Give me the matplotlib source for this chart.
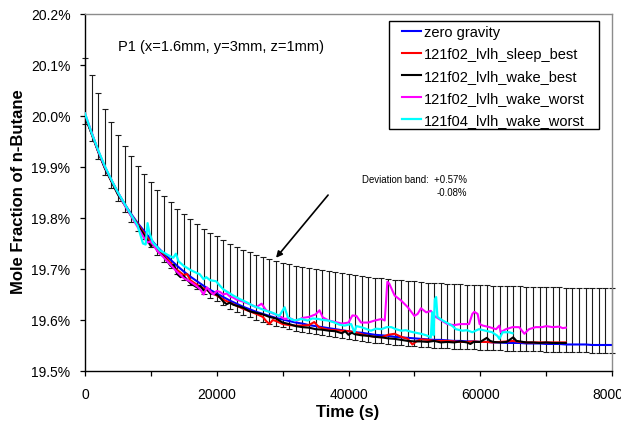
import matplotlib
matplotlib.use("Agg")
import matplotlib.pyplot as plt
from matplotlib.patches import Rectangle
import numpy as np

plt.rcParams['font.family'] = ['Liberation Sans', 'DejaVu Sans']

# ---------------- data (mole fraction of n-butane, %) ----------------
# zero gravity curve, sampled every 1000 s (0 .. 80000 s)
zg_time = list(range(0, 80001, 1000))
zg_vals = [20.000, 19.967, 19.931, 19.900, 19.874, 19.850, 19.828, 19.808, 19.790, 19.774,
           19.758, 19.743, 19.730, 19.718, 19.706, 19.695, 19.685, 19.676, 19.667, 19.659,
           19.652, 19.645, 19.638, 19.632, 19.626, 19.621, 19.616, 19.612, 19.608, 19.604,
           19.601, 19.598, 19.595, 19.593, 19.590, 19.588, 19.586, 19.584, 19.582, 19.580,
           19.578, 19.576, 19.575, 19.573, 19.571, 19.570, 19.569, 19.567, 19.566, 19.565,
           19.564, 19.563, 19.562, 19.561, 19.561, 19.560, 19.559, 19.559, 19.558, 19.558,
           19.557, 19.557, 19.556, 19.556, 19.555, 19.555, 19.555, 19.554, 19.554, 19.554,
           19.553, 19.553, 19.553, 19.552, 19.552, 19.552, 19.552, 19.551, 19.551, 19.551,
           19.551]

dev_plus = 0.57   # % (relative)
dev_minus = 0.08  # % (relative)

sleep_best_t = [0, 1000, 2000, 3000, 4000, 5000, 6000, 7000, 8000, 9000, 10000, 11000, 12000,
                13000, 14000, 15000, 15500, 16000, 17000, 18000, 19000, 20000, 21000, 22000,
                23000, 24000, 25000, 26000, 27000, 27500, 28000, 28500, 29000, 30000, 31000,
                32000, 33000, 34000, 34800, 35500, 36500, 37000, 38000, 39000, 40000, 41000,
                42000, 43000, 44000, 45000, 46000, 47000, 48000, 49000, 49700, 50300, 51000,
                52000, 53000, 54000, 55000, 56000, 57000, 58000, 59000, 60000, 61000, 62000,
                63000, 64000, 65000, 66000, 67000, 68000, 69000, 70000, 71000, 72000, 73000]
sleep_best_v = [20.000, 19.966, 19.931, 19.899, 19.873, 19.848, 19.827, 19.806, 19.788, 19.770,
                19.752, 19.738, 19.726, 19.712, 19.698, 19.688, 19.690, 19.678, 19.669, 19.662,
                19.655, 19.648, 19.640, 19.634, 19.628, 19.622, 19.617, 19.612, 19.606, 19.598,
                19.592, 19.600, 19.598, 19.592, 19.590, 19.589, 19.589, 19.590, 19.596, 19.586,
                19.582, 19.581, 19.580, 19.579, 19.578, 19.576, 19.572, 19.569, 19.567, 19.566,
                19.571, 19.573, 19.567, 19.563, 19.552, 19.558, 19.562, 19.561, 19.559, 19.559,
                19.559, 19.558, 19.557, 19.557, 19.558, 19.557, 19.557, 19.556, 19.557, 19.558,
                19.559, 19.557, 19.556, 19.556, 19.556, 19.556, 19.556, 19.556, 19.556]

wake_best_t = [0, 1000, 2000, 3000, 4000, 5000, 6000, 7000, 8000, 9000, 10000, 10500, 11000,
               12000, 13000, 13500, 14000, 14500, 15000, 16000, 17000, 17500, 18000, 18500,
               19000, 20000, 20500, 21000, 21500, 22000, 22500, 23000, 24000, 25000, 26000,
               27000, 28000, 29000, 30000, 31000, 32000, 33000, 34000, 35000, 36000, 37000,
               38000, 39000, 39500, 40000, 40500, 41000, 42000, 43000, 44000, 45000, 46000,
               47000, 48000, 49000, 50000, 51000, 52000, 53000, 54000, 55000, 56000, 57000,
               58000, 58500, 59000, 60000, 61000, 61500, 62000, 63000, 64000, 65000, 65500,
               66000, 67000, 68000, 69000, 70000, 71000, 72000, 73000]
wake_best_v = [20.000, 19.965, 19.930, 19.898, 19.872, 19.846, 19.826, 19.804, 19.786, 19.766,
               19.745, 19.748, 19.735, 19.724, 19.706, 19.708, 19.690, 19.684, 19.686, 19.672,
               19.664, 19.667, 19.658, 19.661, 19.652, 19.650, 19.644, 19.636, 19.631, 19.634,
               19.630, 19.628, 19.624, 19.617, 19.614, 19.611, 19.606, 19.603, 19.595, 19.592,
               19.588, 19.586, 19.585, 19.582, 19.581, 19.579, 19.578, 19.574, 19.578, 19.571,
               19.575, 19.572, 19.570, 19.569, 19.567, 19.566, 19.564, 19.563, 19.561, 19.559,
               19.558, 19.558, 19.557, 19.559, 19.556, 19.557, 19.556, 19.558, 19.556, 19.553,
               19.557, 19.557, 19.565, 19.559, 19.557, 19.556, 19.557, 19.566, 19.559, 19.558,
               19.556, 19.556, 19.555, 19.556, 19.555, 19.555, 19.555]

wake_worst_t = [0, 1000, 2000, 3000, 4000, 5000, 6000, 7000, 8000, 9000, 9500, 10000, 11000,
                12000, 13000, 14000, 15000, 16000, 17000, 17500, 18000, 18500, 19000, 19500,
                20000, 20500, 21000, 21500, 22000, 22500, 23000, 24000, 25000, 26000, 26800,
                27500, 28500, 29500, 30300, 31000, 32000, 33000, 34000, 35000, 35600, 36100,
                37000, 38000, 39000, 40000, 40600, 41200, 41900, 43000, 44000, 45000, 45500,
                45900, 46200, 47000, 48000, 49000, 50000, 50500, 51000, 51800, 52500, 53000,
                54000, 55000, 56000, 57000, 58300, 58800, 59100, 59600, 59900, 60400, 61400,
                62400, 62900, 63100, 63900, 64900, 65900, 66700, 67400, 68400, 69400, 70000,
                71000, 72000, 72500, 73000]
wake_worst_v = [20.005, 19.968, 19.932, 19.901, 19.875, 19.850, 19.826, 19.804, 19.782, 19.760,
                19.752, 19.754, 19.735, 19.722, 19.708, 19.694, 19.682, 19.675, 19.666, 19.660,
                19.650, 19.664, 19.656, 19.650, 19.657, 19.655, 19.650, 19.652, 19.646, 19.644,
                19.640, 19.636, 19.631, 19.625, 19.632, 19.619, 19.613, 19.608, 19.602, 19.604,
                19.598, 19.604, 19.606, 19.611, 19.619, 19.605, 19.599, 19.596, 19.593, 19.595,
                19.609, 19.608, 19.595, 19.595, 19.599, 19.602, 19.599, 19.675, 19.671, 19.648,
                19.638, 19.625, 19.608, 19.612, 19.623, 19.615, 19.618, 19.608, 19.600, 19.592,
                19.590, 19.592, 19.592, 19.612, 19.616, 19.612, 19.592, 19.589, 19.586, 19.582,
                19.589, 19.576, 19.582, 19.586, 19.586, 19.573, 19.582, 19.586, 19.586, 19.588,
                19.586, 19.587, 19.584, 19.585]

f04_worst_t = [0, 1000, 2000, 3000, 4000, 5000, 6000, 7000, 8000, 8800, 9200, 9500, 9800,
               10300, 11000, 11400, 12000, 12500, 13400, 13800, 14200, 15000, 15400, 16000,
               17000, 17400, 18000, 18400, 19000, 19900, 20500, 21000, 22000, 22500, 23500,
               24500, 25500, 26500, 27500, 28500, 29500, 30300, 30800, 31800, 32800, 33800,
               34500, 35400, 36200, 36900, 37900, 38600, 39400, 40400, 40900, 41200, 41900,
               42600, 43400, 44200, 45000, 45800, 46500, 47200, 48000, 48700, 49500, 50200,
               51000, 51800, 52500, 52700, 52900, 53100, 53300, 53500, 54300, 55300, 55800,
               56300, 57300, 58000, 58800, 59800, 60800, 61800, 62600, 62900, 63400, 64400,
               64900]
f04_worst_v = [20.005, 19.967, 19.933, 19.902, 19.875, 19.850, 19.828, 19.806, 19.785, 19.750,
               19.748, 19.790, 19.770, 19.752, 19.742, 19.736, 19.732, 19.728, 19.722, 19.730,
               19.715, 19.706, 19.703, 19.698, 19.692, 19.690, 19.680, 19.684, 19.678, 19.676,
               19.667, 19.660, 19.652, 19.648, 19.641, 19.635, 19.628, 19.623, 19.618, 19.614,
               19.608, 19.625, 19.605, 19.599, 19.602, 19.599, 19.603, 19.602, 19.600, 19.599,
               19.595, 19.591, 19.589, 19.592, 19.576, 19.588, 19.586, 19.583, 19.579, 19.583,
               19.582, 19.586, 19.586, 19.582, 19.579, 19.580, 19.577, 19.575, 19.573, 19.570,
               19.566, 19.615, 19.570, 19.640, 19.645, 19.606, 19.599, 19.592, 19.588, 19.582,
               19.579, 19.580, 19.576, 19.582, 19.579, 19.576, 19.569, 19.563, 19.576, 19.576,
               19.574]

series_labels = ["zero gravity", "121f02_lvlh_sleep_best", "121f02_lvlh_wake_best",
                 "121f02_lvlh_wake_worst", "121f04_lvlh_wake_worst"]
series_colors = ["#0000FF", "#FF0000", "#000000", "#FF00FF", "#00FFFF"]

x_ticks = [0, 20000, 40000, 60000, 80000]
y_ticks = [19.5, 19.6, 19.7, 19.8, 19.9, 20.0, 20.1, 20.2]

# ---------------- figure ----------------
W, H = 621, 427
fig = plt.figure(figsize=(W / 100, H / 100), dpi=100)
L, R, T, B = 85, 612, 15, 372
ax = fig.add_axes([L / W, 1 - B / H, (R - L) / W, (B - T) / H])

zg = np.array(zg_vals)
yerr = [zg * dev_minus / 100.0, zg * dev_plus / 100.0]
ax.errorbar(zg_time, zg, yerr=yerr, fmt='none', ecolor='#1a1a1a', elinewidth=0.8,
            capsize=2.4, capthick=0.8, zorder=1, clip_on=False)

lw = 1.5
ax.plot(zg_time, zg_vals, color=series_colors[0], lw=lw, label=series_labels[0], zorder=2)
ax.plot(sleep_best_t, sleep_best_v, color=series_colors[1], lw=lw, label=series_labels[1], zorder=3)
ax.plot(wake_best_t, wake_best_v, color=series_colors[2], lw=lw, label=series_labels[2], zorder=4)
ax.plot(wake_worst_t, wake_worst_v, color=series_colors[3], lw=lw, label=series_labels[3], zorder=5)
ax.plot(f04_worst_t, f04_worst_v, color=series_colors[4], lw=1.6, label=series_labels[4], zorder=6)

ax.set_xlim(0, 80000)
ax.set_ylim(19.5, 20.2)
ax.set_xticks(x_ticks)
ax.set_xticklabels([str(v) for v in x_ticks])
ax.set_xticks([10000, 30000, 50000, 70000], minor=True)
ax.set_yticks(y_ticks)
ax.set_yticklabels([f"{v:.1f}%" for v in y_ticks])

ax.tick_params(axis='both', which='both', direction='out', labelsize=10, colors='black')
ax.tick_params(axis='x', which='both', length=3.5, width=0.9, pad=8)
ax.tick_params(axis='y', which='major', length=3.5, width=0.9, pad=7)

for s in ['left', 'bottom']:
    ax.spines[s].set_color('black')
    ax.spines[s].set_linewidth(1.0)
for s in ['top', 'right']:
    ax.spines[s].set_color('#8c8c8c')
    ax.spines[s].set_linewidth(1.0)

# legend: entries without frame, frame drawn as a rectangle with wider side padding
frame = Rectangle((389 / W, 1 - 130 / H), (599 - 389) / W, (130 - 22) / H,
                  transform=fig.transFigure, facecolor='white', edgecolor='black',
                  lw=1.0, zorder=9, clip_on=False)
ax.add_patch(frame)
leg = ax.legend(loc='upper left', bbox_to_anchor=(402 / W, 1 - 26.0 / H),
                bbox_transform=fig.transFigure, fontsize=10.5, frameon=False,
                borderpad=0.0, labelspacing=0.55, handlelength=1.3,
                handletextpad=0.22, borderaxespad=0.0)
leg.set_zorder(10)

ax.text((118 - L) / (R - L), (B - 47) / (B - T), "P1 (x=1.6mm, y=3mm, z=1mm)",
        transform=ax.transAxes, ha='left', va='center', fontsize=10.5)

ax.annotate("", xy=(29000, 19.722), xytext=(36900, 19.845),
            arrowprops=dict(arrowstyle='-|>', color='black', lw=1.2,
                            mutation_scale=9, shrinkA=0, shrinkB=0))
ax.text((467 - L) / (R - L), (B - 180) / (B - T), "Deviation band:  +0.57%",
        transform=ax.transAxes, ha='right', va='center', fontsize=6.9)
ax.text((467 - L) / (R - L), (B - 193) / (B - T), "-0.08%", transform=ax.transAxes,
        ha='right', va='center', fontsize=6.9)

fig.text(348 / W, 1 - 413 / H, "Time (s)", ha='center', va='center',
         fontsize=12, fontweight='bold')
fig.text(19 / W, 1 - 192 / H, "Mole Fraction of n-Butane", ha='center', va='center',
         rotation=90, fontsize=12, fontweight='bold')

fig.savefig("out.png", dpi=100)
